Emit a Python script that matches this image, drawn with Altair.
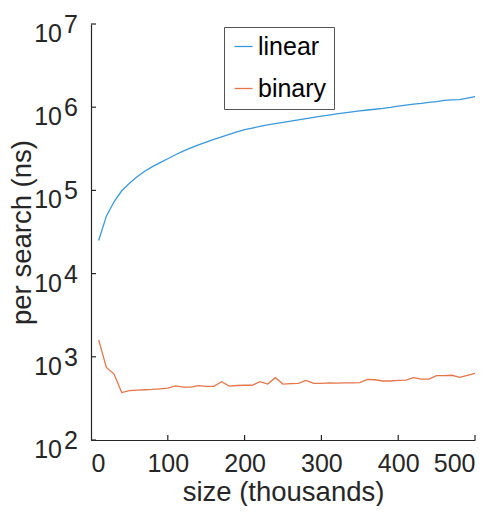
import altair as alt
import pandas as pd

# ---- data ----
sizes = list(range(10, 501, 10))
linear_ns = [25000, 49000, 73000, 99000, 122000, 146000, 170000, 193000, 216000, 240000,
             268000, 296000, 324000, 352000, 381000, 411000, 441000, 472000, 504000, 536000,
             562000, 587000, 612000, 636000, 658000, 682000, 706000, 730000, 755000, 780000,
             805000, 830000, 855000, 880000, 905000, 925000, 945000, 967000, 995000, 1030000,
             1060000, 1090000, 1110000, 1140000, 1170000, 1210000, 1225000, 1235000, 1285000, 1340000]
binary_ns = [1600, 745, 620, 372, 392, 398, 402, 406, 412, 420,
             446, 433, 433, 450, 441, 441, 502, 445, 452, 455,
             455, 502, 470, 561, 470, 475, 480, 521, 478, 478,
             487, 482, 485, 487, 490, 536, 530, 512, 512, 520,
             525, 561, 540, 540, 593, 593, 600, 565, 597, 631]
series_names = ["linear", "binary"]
series_colors = ["#3A98DA", "#E4764A"]
decade_exponents = [2, 3, 4, 5, 6, 7]
x_tick_values = [0, 100, 200, 300, 400, 500]
x_inner_ticks = [100, 200, 300, 400, 500]

df = pd.DataFrame({
    "size": sizes * 2,
    "ns": linear_ns + binary_ns,
    "method": ["linear"] * len(sizes) + ["binary"] * len(sizes),
})
ydf = pd.DataFrame({
    "ns": [10 ** e for e in decade_exponents],
    "base": ["10"] * len(decade_exponents),
    "exp": [str(e) for e in decade_exponents],
})
xdf = pd.DataFrame({"size": x_inner_ticks})

W, H = 384, 416
FONT = "Liberation Sans"
AX = "#262626"

xscale = alt.Scale(domain=[0, 500], nice=False, zero=False)
yscale = alt.Scale(type="log", domain=[100, 1e7], nice=False)

xaxis = alt.Axis(title="size (thousands)", values=x_tick_values, format="d", tickSize=0,
                 labelPadding=11, labelFontSize=25, labelFont=FONT, labelColor=AX,
                 titleFont=FONT, titleFontSize=27.5, titleFontWeight="normal", titleColor=AX,
                 titleBaseline="alphabetic", titleY=60, grid=False,
                 domainColor=AX, domainWidth=1.2)
yaxis = alt.Axis(title="per search (ns)", labels=False, ticks=False, grid=False,
                 domainColor=AX, domainWidth=1.2, titleFont=FONT, titleFontSize=27.5,
                 titleFontWeight="normal", titleColor=AX, titleAngle=270,
                 titleBaseline="alphabetic", titleAlign="center", titleX=-61, titleY=H / 2)


def xe(field):
    return alt.X(field, type="quantitative", scale=xscale, axis=xaxis)


def ye(field):
    return alt.Y(field, type="quantitative", scale=yscale, axis=yaxis)


lines = alt.Chart(df).mark_line(strokeWidth=1.3).encode(
    x=xe("size"),
    y=ye("ns"),
    color=alt.Color("method:N", sort=series_names,
                    scale=alt.Scale(domain=series_names, range=series_colors),
                    legend=alt.Legend(title=None, orient="none", legendX=133, legendY=3,
                                      symbolType="stroke", symbolSize=324, symbolStrokeWidth=1.3,
                                      labelFontSize=25, labelFont=FONT, labelColor="black",
                                      padding=7, rowPadding=16, labelOffset=2,
                                      strokeColor="#555555", fillColor="white")),
)

yticks = alt.Chart(ydf).mark_rule(color=AX, strokeWidth=1.2).encode(
    y=ye("ns"), x=alt.value(0), x2=alt.value(5))
xticks = alt.Chart(xdf).mark_rule(color=AX, strokeWidth=1.2).encode(
    x=xe("size"), y=alt.value(H), y2=alt.value(H - 5))

ybase = alt.Chart(ydf).mark_text(font=FONT, fontSize=25, color=AX, align="right",
                                 baseline="alphabetic", dy=18).encode(
    y=ye("ns"), x=alt.value(-29), text="base:N")
yexp = alt.Chart(ydf).mark_text(font=FONT, fontSize=25, color=AX, align="left",
                                baseline="alphabetic", dy=9).encode(
    y=ye("ns"), x=alt.value(-27), text="exp:N")

chart = alt.layer(lines, yticks, xticks, ybase, yexp).properties(
    width=W, height=H, autosize="none",
    padding={"left": 83, "top": 16, "right": 17, "bottom": 66},
).configure_view(stroke=None)

chart.save("out.html", embed_options={"renderer": "svg", "actions": False})
